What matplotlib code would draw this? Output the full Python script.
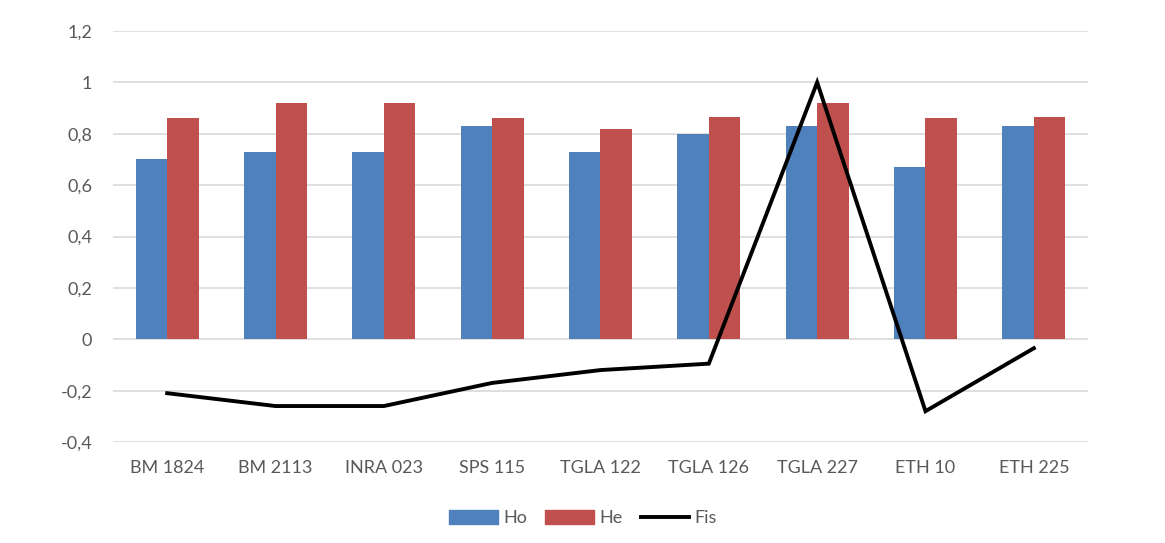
import matplotlib
matplotlib.use("Agg")
import matplotlib.pyplot as plt
import numpy as np
from matplotlib.ticker import FuncFormatter, FixedLocator
from matplotlib.patches import Patch
from matplotlib.lines import Line2D

categories = ["BM 1824", "BM 2113", "INRA 023", "SPS 115", "TGLA 122",
              "TGLA 126", "TGLA 227", "ETH 10", "ETH 225"]
ho = [0.70, 0.73, 0.73, 0.83, 0.73, 0.80, 0.83, 0.67, 0.83]
he = [0.86, 0.92, 0.92, 0.86, 0.82, 0.865, 0.92, 0.86, 0.865]
fis = [-0.21, -0.26, -0.26, -0.17, -0.12, -0.095, 1.0, -0.28, -0.035]
yticks = [-0.4, -0.2, 0, 0.2, 0.4, 0.6, 0.8, 1.0, 1.2]

plt.rcParams['font.family'] = ['Lato', 'DejaVu Sans']

fig = plt.figure(figsize=(11.65, 5.43), dpi=100)
ax = fig.add_axes([113/1165, 1-442/543, (1088-113)/1165, (442-31)/543])

x = np.arange(len(categories))
w = 0.29
ax.bar(x - w/2, ho, width=w, color="#4F81BD", zorder=2, label="Ho")
ax.bar(x + w/2, he, width=w, color="#C0504D", zorder=2, label="He")
ax.plot(x, fis, color="black", linewidth=2.8, zorder=3, label="Fis",
        solid_joinstyle="miter")

ax.set_xlim(-0.5, len(categories) - 0.5)
ax.set_ylim(-0.4, 1.2)
ax.yaxis.set_major_locator(FixedLocator(yticks))

def fmt(v, pos):
    s = ("%.1f" % v).rstrip("0").rstrip(".")
    if s == "-0":
        s = "0"
    return s.replace(".", ",")

ax.yaxis.set_major_formatter(FuncFormatter(fmt))
ax.set_xticks(x)
ax.set_xticklabels(categories)
ax.grid(axis="y", color="#D9D9D9", linewidth=1.2, zorder=0)
for s in ax.spines.values():
    s.set_visible(False)
ax.tick_params(axis="both", length=0, labelsize=13, colors="#595959")
ax.tick_params(axis="y", pad=15)
ax.tick_params(axis="x", pad=13)

handles = [Patch(color="#4F81BD", label="Ho"),
           Patch(color="#C0504D", label="He"),
           Line2D([0], [0], color="black", linewidth=2.8, label="Fis")]
leg = fig.legend(handles=handles, loc="center", bbox_to_anchor=(583/1165, 1-518/543),
                 ncol=3, frameon=False, fontsize=13, handlelength=2.7,
                 handleheight=0.8, columnspacing=1.0, handletextpad=0.3)
for t in leg.get_texts():
    t.set_color("#595959")

fig.savefig("out.png", dpi=100, facecolor="white")
